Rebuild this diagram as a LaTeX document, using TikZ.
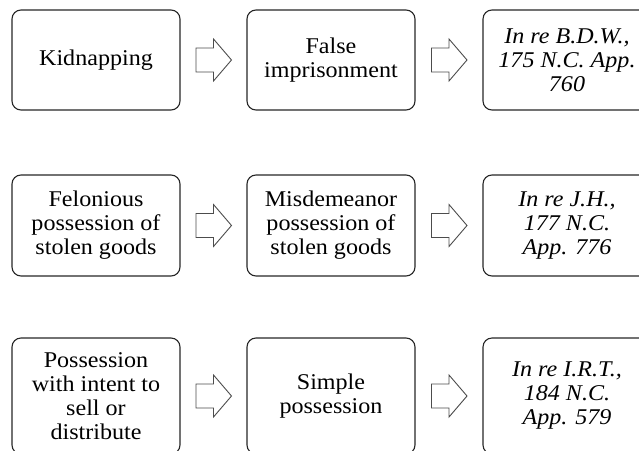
\documentclass[tikz,border=0pt]{standalone}
\usepackage{fontspec}
\setmainfont{Liberation Serif}[FakeStretch=1.07]
\usetikzlibrary{calc}
\begin{document}
\begin{tikzpicture}[x=1pt,y=-1pt,
  box/.style={draw=black!85,line width=1.1pt,rounded corners=9pt,
    minimum width=168pt,align=center,inner sep=2pt,
    font=\fontsize{22.5}{24}\selectfont},
  arrowline/.style={draw=black!70,line width=0.9pt,fill=white,line join=miter},
  hollowarrow/.pic={\path[arrowline] (-17.5,-12) -- (0,-12) -- (0,-21) -- (18,0)
      -- (0,21) -- (0,12) -- (-17.5,12) -- cycle;}]
\useasboundingbox (0,0) rectangle (639,450);
\clip (0,0) rectangle (639,450);

% first chain
\node[box,minimum height=100pt] (k) at (96,60) {Kidnapping};
\node[box,minimum height=100pt] (fi) at (331,60) {False\\imprisonment};
\node[box,minimum height=100pt] (bdw) at (567,60) {\itshape In re B.D.W.,\\\itshape 175 N.C. App.\\\itshape 760};

% second chain
\node[box,minimum height=101pt] (fp) at (96,225.5) {Felonious\\possession of\\stolen goods};
\node[box,minimum height=101pt] (mp) at (331,225.5) {Misdemeanor\\possession of\\stolen goods};
\node[box,minimum height=101pt] (jh) at (567,225.5) {\itshape In re J.H.,\\\itshape 177 N.C.\\\itshape App. 776};

% third chain
\node[box,minimum height=116pt] (pw) at (96,396) {Possession\\with intent to\\sell or\\distribute};
\node[box,minimum height=116pt] (sp) at (331,396) {Simple\\possession};
\node[box,minimum height=116pt] (irt) at (567,396) {\itshape In re I.R.T.,\\\itshape 184 N.C.\\\itshape App. 579};

% block arrows between the boxes
\path ($(k.east)!0.5!(fi.west)$) pic {hollowarrow};
\path ($(fi.east)!0.5!(bdw.west)$) pic {hollowarrow};
\path ($(fp.east)!0.5!(mp.west)$) pic {hollowarrow};
\path ($(mp.east)!0.5!(jh.west)$) pic {hollowarrow};
\path ($(pw.east)!0.5!(sp.west)$) pic {hollowarrow};
\path ($(sp.east)!0.5!(irt.west)$) pic {hollowarrow};
\end{tikzpicture}
\end{document}
